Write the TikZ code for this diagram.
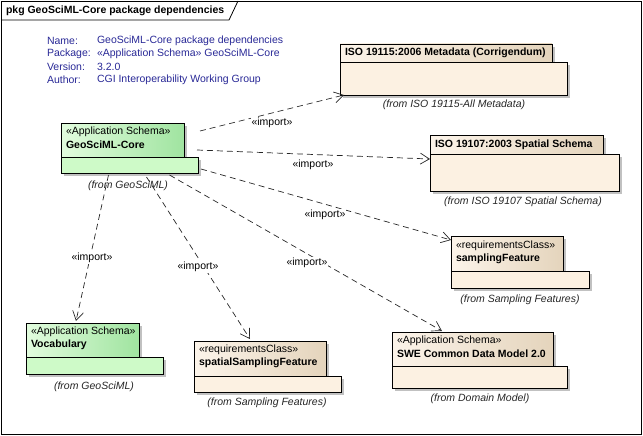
\documentclass[tikz,border=0pt]{standalone}
\usepackage{fontspec}
\setmainfont{Liberation Sans}
\usetikzlibrary{arrows.meta,shadows}
\definecolor{infoblue}{RGB}{40,40,150}
\definecolor{gtabL}{RGB}{226,252,222}
\definecolor{gtabR}{RGB}{160,228,160}
\definecolor{gbody}{RGB}{206,250,200}
\definecolor{btabL}{RGB}{252,244,234}
\definecolor{btabR}{RGB}{228,212,188}
\definecolor{bbody}{RGB}{252,241,226}
\newcommand{\fsz}{\fontsize{10.5}{12}\selectfont}
\tikzset{
  x=1pt, y=1pt,
  every node/.style={font=\fsz, inner sep=0pt, outer sep=0pt},
  pkgshadow/.style={drop shadow={shadow xshift=3pt, shadow yshift=-3pt, fill=black!35, opacity=0.7}},
  greentab/.style={draw=black, line width=0.8pt, left color=gtabL, right color=gtabR, pkgshadow, anchor=north west},
  greenbody/.style={draw=black, line width=0.8pt, fill=gbody, pkgshadow, anchor=north west},
  beigetab/.style={draw=black, line width=0.8pt, left color=btabL, right color=btabR, pkgshadow, anchor=north west},
  beigebody/.style={draw=black, line width=0.8pt, fill=bbody, pkgshadow, anchor=north west},
  stereo/.style={anchor=west},
  pkgname/.style={anchor=west, font=\fsz\bfseries},
  fromlbl/.style={font=\fsz\itshape, text=black!85},
  info/.style={anchor=west, text=infoblue},
  dep/.style={draw=black!85, line width=0.7pt, dash pattern=on 6pt off 4pt, -{Straight Barb[length=9pt,width=11pt,line width=0.7pt]}},
  imp/.style={fill=white, inner sep=1pt},
}
\begin{document}
\begin{tikzpicture}
\useasboundingbox (0,0) rectangle (643,-436);
% frame
\draw[line width=0.8pt] (1,-1) rectangle (641,-434);
\draw[line width=0.8pt] (1,-20) -- (229,-20) -- (238,-1);
\node[anchor=west, font=\fsz\bfseries] (title) at (6,-11) {pkg GeoSciML-Core package dependencies};
% info block
\node[info] (nameL) at (47,-41) {Name:};
\node[info] (pkgL) at (47,-54) {Package:};
\node[info] (verL) at (47,-67) {Version:};
\node[info] (autL) at (47,-80) {Author:};
\node[info] (nameV) at (97,-41) {GeoSciML-Core package dependencies};
\node[info] (pkgV) at (97,-54) {«Application Schema» GeoSciML-Core};
\node[info] (verV) at (97,-67) {3.2.0};
\node[info] (autV) at (97,-80) {CGI Interoperability Working Group};

% ISO 19115
\node[beigetab, minimum width=212pt, minimum height=18pt] (iso115Tab) at (340,-44) {};
\node[beigebody, minimum width=227pt, minimum height=33pt] (iso115) at (340,-62) {};
\node[pkgname] (iso115Name) at (345,-53) {ISO 19115:2006 Metadata (Corrigendum)};
\node[fromlbl] (iso115From) at (454,-105) {(from ISO 19115-All Metadata)};

% ISO 19107
\node[beigetab, minimum width=173pt, minimum height=19pt] (iso107Tab) at (430,-135) {};
\node[beigebody, minimum width=189pt, minimum height=37pt] (iso107) at (430,-154) {};
\node[pkgname] (iso107Name) at (435,-145) {ISO 19107:2003 Spatial Schema};
\node[fromlbl] (iso107From) at (523,-202) {(from ISO 19107 Spatial Schema)};

% samplingFeature
\node[beigetab, minimum width=112pt, minimum height=35pt] (sampTab) at (451,-236) {};
\node[beigebody, minimum width=138pt, minimum height=17pt] (samp) at (451,-271) {};
\node[stereo] (sampSt) at (456,-246) {«requirementsClass»};
\node[pkgname] (sampName) at (456,-259) {samplingFeature};
\node[fromlbl] (sampFrom) at (520,-300) {(from Sampling Features)};

% GeoSciML-Core
\node[greentab, minimum width=123pt, minimum height=34pt] (coreTab) at (61,-123) {};
\node[greenbody, minimum width=137pt, minimum height=16pt] (core) at (61,-157) {};
\node[stereo] (coreSt) at (66,-132) {«Application Schema»};
\node[pkgname] (coreName) at (66,-145) {GeoSciML-Core};
\node[fromlbl] (coreFrom) at (128,-186) {(from GeoSciML)};

% Vocabulary
\node[greentab, minimum width=113pt, minimum height=34pt] (vocTab) at (26,-323) {};
\node[greenbody, minimum width=137pt, minimum height=17pt] (voc) at (26,-357) {};
\node[stereo] (vocSt) at (31,-332) {«Application Schema»};
\node[pkgname] (vocName) at (31,-345) {Vocabulary};
\node[fromlbl] (vocFrom) at (94,-387) {(from GeoSciML)};

% spatialSamplingFeature
\node[beigetab, minimum width=132pt, minimum height=35pt] (ssfTab) at (194,-341) {};
\node[beigebody, minimum width=147pt, minimum height=16pt] (ssf) at (194,-376) {};
\node[stereo] (ssfSt) at (199,-350) {«requirementsClass»};
\node[pkgname] (ssfName) at (199,-363) {spatialSamplingFeature};
\node[fromlbl] (ssfFrom) at (267,-403) {(from Sampling Features)};

% SWE Common
\node[beigetab, minimum width=161pt, minimum height=34pt] (sweTab) at (392,-332) {};
\node[beigebody, minimum width=175pt, minimum height=22pt] (swe) at (392,-366) {};
\node[stereo] (sweSt) at (397,-341) {«Application Schema»};
\node[pkgname] (sweName) at (397,-354) {SWE Common Data Model 2.0};
\node[fromlbl] (sweFrom) at (480,-399) {(from Domain Model)};

% dependencies
\draw[dep] ([shift={(16,-8)}]coreTab.north east) -- ([xshift=4pt]iso115.south west);
\draw[dep] ([shift={(13,-27)}]coreTab.north east) -- ([yshift=-5pt]iso107.north west);
\draw[dep] ([shift={(3,-12)}]core.north east) -- ([yshift=-4pt]sampTab.north west);
\draw[dep] ([shift={(40,-2)}]core.south) -- ([shift={(50,1)}]sweTab.north west);
\draw[dep] ([shift={(17,-4)}]core.south) -- ([shift={(56,2)}]ssfTab.north west);
\draw[dep] ([shift={(-21,-2)}]core.south) -- ([shift={(50,2)}]vocTab.north west);

\node[imp] (imp1) at (272,-123) {«import»};
\node[imp] (imp2) at (313,-165) {«import»};
\node[imp] (imp3) at (325,-215) {«import»};
\node[imp] (imp4) at (307,-263) {«import»};
\node[imp] (imp5) at (198,-267) {«import»};
\node[imp] (imp6) at (92,-258) {«import»};
\end{tikzpicture}
\end{document}
